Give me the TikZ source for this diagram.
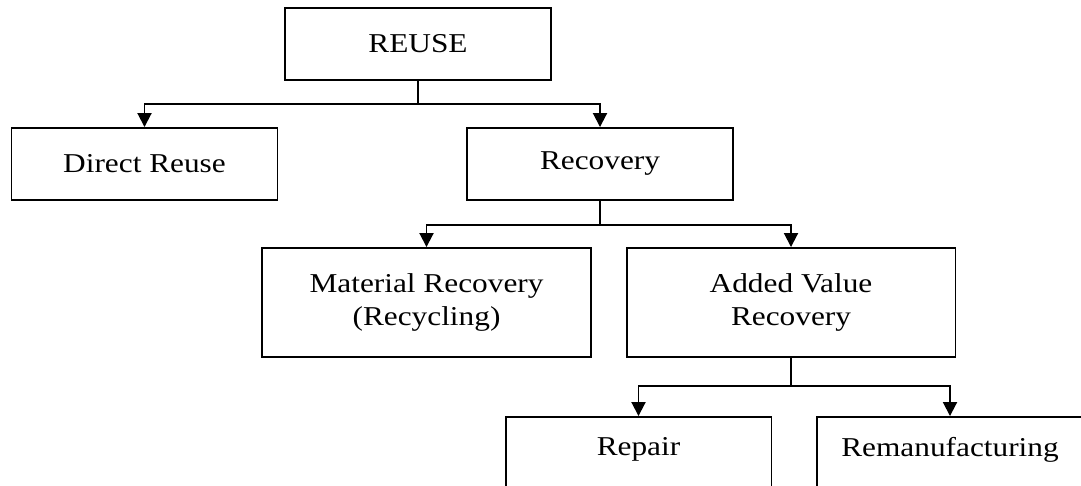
\documentclass[tikz,border=0pt]{standalone}
\usepackage{fontspec}
\setmainfont[FakeStretch=1.15]{Liberation Serif}
\usepackage{tikz}
\usetikzlibrary{arrows.meta,positioning,calc}

\begin{document}
\begin{tikzpicture}[x=0.02cm,y=-0.02cm,
  font=\fontsize{15.5}{18.8}\selectfont,
  box/.style={draw,line width=1.1pt,align=center,inner sep=0pt,minimum width=5.32cm,minimum height=1.44cm},
  tall/.style={box,minimum width=6.58cm,minimum height=2.18cm},
  low/.style={box,minimum height=1.56cm,text depth=0.38cm},
  a/.style={-{Triangle[length=0.28cm,width=0.28cm]},line width=1.1pt},
  l/.style={line width=1.1pt}]
  \clip (0,0) rectangle (1081,486);
  \node[box] (reuse) at (418,44) {REUSE};
  \node[box] (direct) at (144.5,164) {Direct Reuse};
  \node[box] (recov) at (600,164) {Recovery};
  \node[tall] (matrec) at (426.5,302.5) {Material Recovery\\(Recycling)};
  \node[tall] (addval) at (791,302.5) {Added Value\\Recovery};
  \node[low] (repair) at (638.5,456) {Repair};
  \node[low] (reman) at (950,456) {Remanufacturing};
  \coordinate (j1) at (418,104);
  \coordinate (j2) at (600,225);
  \coordinate (j3) at (791,386);
  \draw[l] (reuse) -- (j1); \draw[a] (j1) -| (direct); \draw[a] (j1) -| (recov);
  \draw[l] (recov) -- (j2); \draw[a] (j2) -| (matrec); \draw[a] (j2) -| (addval);
  \draw[l] (addval) -- (j3); \draw[a] (j3) -| (repair); \draw[a] (j3) -| (reman);
\end{tikzpicture}
\end{document}
